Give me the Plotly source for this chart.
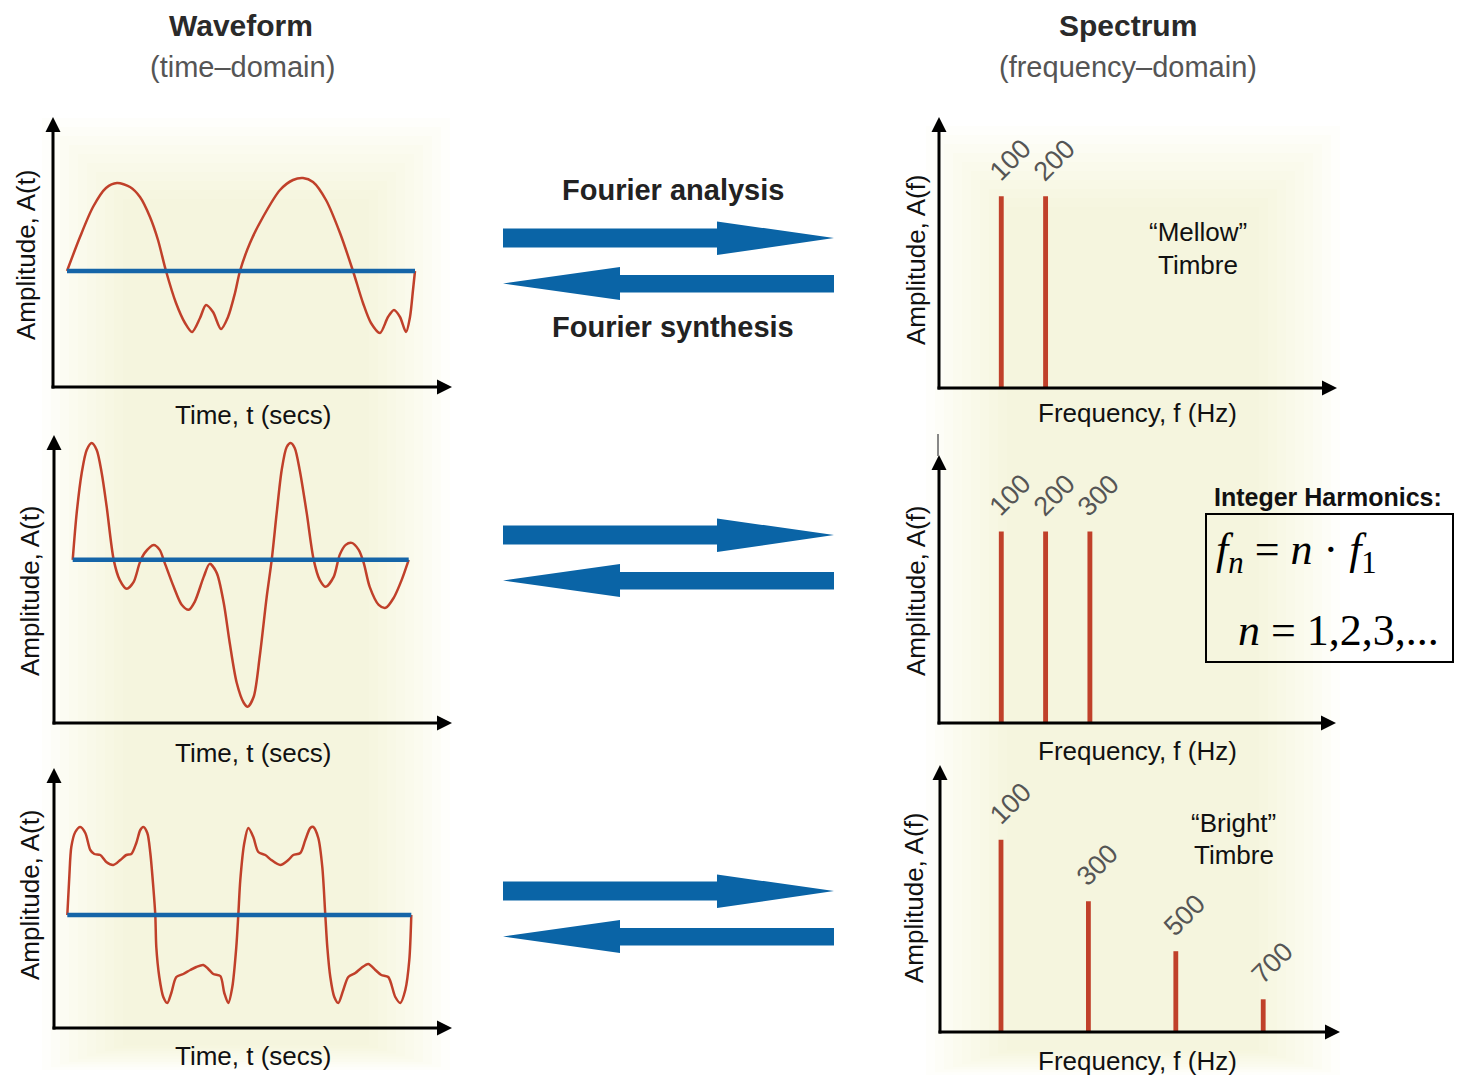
import plotly.graph_objects as go

W, H = 1462, 1075
SANS = "Liberation Sans, Arial, Helvetica, sans-serif"
SERIF = "Liberation Serif, Times New Roman, serif"
RED = "#c0402a"
BLUE = "#1565a8"
ARROW_BLUE = "#0a64a6"

# ---------------- data (arbitrary units) ----------------
# Waveform 1: 100 Hz + 200 Hz ("mellow")
t1 = [0, 13, 26, 39, 50, 63, 73, 83, 91, 99, 109, 118, 125, 133, 139, 146, 154, 161, 168, 173,
      183, 196, 213, 226, 236, 246, 259, 273, 286, 296, 304, 313, 321, 327, 333, 339, 343, 346, 348]
a1 = [0, 34, 64, 83, 88, 84, 74, 54, 31, 0, -32, -52, -61, -47, -34, -41, -58, -46, -22, 0,
      28, 54, 81, 91, 93, 89, 71, 38, 0, -32, -52, -62, -46, -39, -46, -61, -46, -19, 0]

# Waveform 2: 100 + 200 + 300 Hz
t2 = [0, 4, 9, 14, 19, 24, 29, 34, 41, 47, 54, 61, 67, 72, 81, 87, 92, 101, 109, 116, 122, 131,
      137, 144, 151, 157, 164, 171, 175, 181, 187, 194, 199, 204, 209, 214, 218, 222, 227, 234,
      241, 247, 253, 261, 267, 273, 279, 286, 291, 297, 306, 313, 321, 329, 336]
a2 = [0, 47, 87, 110, 117, 110, 87, 53, 0, -20, -29, -22, -3, 7, 15, 10, -3, -27, -45, -50, -42, -17,
      -4, -13, -43, -83, -123, -143, -147, -137, -97, -37, 0, 47, 90, 113, 117, 112, 90, 47,
      0, -20, -27, -17, 5, 15, 17, 10, -3, -27, -45, -48, -38, -20, 0]

# Waveform 3: odd harmonics 100 + 300 + 500 + 700 Hz ("bright")
t3 = [0, 2, 4, 8, 13, 18, 23, 27, 33, 39, 46, 53, 59, 64, 69, 73, 76, 80, 83, 86, 88, 89, 92, 96,
      100, 104, 109, 116, 123, 129, 136, 141, 146, 153, 157, 161, 165, 169, 171, 173, 177, 181,
      186, 191, 198, 204, 213, 221, 226, 233, 238, 243, 246, 251, 255, 258, 260, 263, 267, 271,
      276, 281, 288, 294, 301, 308, 314, 321, 328, 333, 338, 342, 344]
a3 = [0, 38, 68, 83, 88, 82, 65, 61, 60, 53, 50, 55, 60, 61, 72, 85, 88, 82, 62, 28, 0, -32, -62, -82,
      -88, -78, -62, -59, -55, -52, -50, -54, -59, -61, -78, -88, -72, -32, 0, 35, 72, 87,
      78, 63, 60, 55, 50, 55, 60, 62, 75, 87, 88, 77, 48, 0, -32, -62, -82, -88,
      -75, -62, -58, -53, -49, -55, -60, -62, -82, -88, -75, -45, 0]

# Spectra
spec1_f = [100, 200]
spec1_a = [1.0, 1.0]
spec2_f = [100, 200, 300]
spec2_a = [1.0, 1.0, 1.0]
spec3_f = [100, 300, 500, 700]
spec3_a = [1.0, 0.68, 0.42, 0.17]


def P(x, y):
    return x / W, 1 - y / H


def path(pts):
    s = ""
    for i, (x, y) in enumerate(pts):
        X, Y = P(x, y)
        s += ("M" if i == 0 else "L") + f"{X:.5f},{Y:.5f} "
    return s + "Z"


fig = go.Figure()
layout = dict(width=W, height=H, margin=dict(l=0, r=0, t=0, b=0),
              paper_bgcolor="white", plot_bgcolor="rgba(0,0,0,0)", showlegend=False)

# panel geometry: (k, left px, right px, top px, bottom px, xrange, yrange)
panels = [
    (1, 53, 452, 117, 387, [-14, 385], [-116, 154]),
    (2, 939, 1337, 117, 388, [-40.6, 857.8], [0, 1.414]),
    (3, 54, 452, 435, 723, [-18.7, 379.3], [-163.3, 125]),
    (4, 939, 1336, 455, 723, [-40.6, 855.5], [0, 1.399]),
    (5, 54, 452, 768, 1028, [-13.3, 384.7], [-113, 147]),
    (6, 940, 1340, 765, 1032, [-39.6, 875.7], [0, 1.388]),
]
annotations = []
shapes = []

HL, HW = 15, 7.5  # arrowhead length / half width in px
for k, x0, x1, yt, yb, xr, yr in panels:
    layout[f"xaxis{k}"] = dict(domain=[x0 / W, x1 / W], range=xr, visible=False,
                               anchor=f"y{k}", fixedrange=True)
    layout[f"yaxis{k}"] = dict(domain=[1 - yb / H, 1 - yt / H], range=yr, visible=False,
                               anchor=f"x{k}", fixedrange=True)
    # axis lines
    for (ax0, ay0, ax1, ay1) in ((x0 - 1.5, yb, x1 - HL + 2, yb), (x0, yb + 1.5, x0, yt + HL - 2)):
        X0, Y0 = P(ax0, ay0)
        X1, Y1 = P(ax1, ay1)
        shapes.append(dict(type="line", xref="paper", yref="paper", x0=X0, y0=Y0, x1=X1, y1=Y1,
                           line=dict(color="black", width=3)))
    # arrowheads
    shapes.append(dict(type="path", xref="paper", yref="paper", fillcolor="black", line=dict(width=0),
                       path=path([(x1 - HL, yb - HW), (x1, yb), (x1 - HL, yb + HW)])))
    shapes.append(dict(type="path", xref="paper", yref="paper", fillcolor="black", line=dict(width=0),
                       path=path([(x0 - HW, yt + HL), (x0, yt), (x0 + HW, yt + HL)])))

waves = [(1, t1, a1), (3, t2, a2), (5, t3, a3)]
for k, t, a in waves:
    ax_x, ax_y = ("x", "y") if k == 1 else (f"x{k}", f"y{k}")
    fig.add_trace(go.Scatter(x=t, y=a, mode="lines", xaxis=ax_x, yaxis=ax_y, hoverinfo="skip",
                             line=dict(color=RED, width=2.5, shape="spline", smoothing=0.8)))
    fig.add_trace(go.Scatter(x=[t[0], t[-1]], y=[0, 0], mode="lines", xaxis=ax_x, yaxis=ax_y,
                             hoverinfo="skip", line=dict(color=BLUE, width=4.5)))

specs = [(2, spec1_f, spec1_a), (4, spec2_f, spec2_a), (6, spec3_f, spec3_a)]
for k, f, a in specs:
    fig.add_trace(go.Bar(x=f, y=a, width=11, xaxis=f"x{k}", yaxis=f"y{k}",
                         marker=dict(color=RED, line=dict(width=0)), hoverinfo="skip"))
    for fi, ai in zip(f, a):
        annotations.append(dict(text=str(fi), x=fi, y=ai, xref=f"x{k}", yref=f"y{k}",
                                showarrow=False, textangle=-45, xshift=9, yshift=36,
                                font=dict(family=SANS, size=27, color="#555555")))


def txt(text, x, y, size, color="#111111", family=SANS, angle=0, xanchor="center"):
    X, Y = P(x, y)
    annotations.append(dict(text=text, x=X, y=Y, xref="paper", yref="paper", showarrow=False,
                            textangle=angle, xanchor=xanchor, yanchor="middle",
                            font=dict(family=family, size=size, color=color)))


# headers
txt("<b>Waveform</b>", 241, 25, 30, "#2a2a2a")
txt("(time\u2013domain)", 242, 67, 29, "#555555")
txt("<b>Spectrum</b>", 1128, 25, 30, "#2a2a2a")
txt("(frequency\u2013domain)", 1128, 67, 29, "#555555")
txt("<b>Fourier analysis</b>", 673, 190, 29, "#222222")
txt("<b>Fourier synthesis</b>", 673, 327, 29, "#222222")

# axis labels
txt("Time, t (secs)", 253, 415, 26)
txt("Time, t (secs)", 253, 753, 26)
txt("Time, t (secs)", 253, 1056, 26)
txt("Frequency, f (Hz)", 1137, 413, 26)
txt("Frequency, f (Hz)", 1137, 751, 26)
txt("Frequency, f (Hz)", 1137, 1061, 26)
txt("Amplitude, A(t)", 26, 255, 26, angle=-90)
txt("Amplitude, A(t)", 30, 591, 26, angle=-90)
txt("Amplitude, A(t)", 30, 895, 26, angle=-90)
txt("Amplitude, A(f)", 916, 260, 26, angle=-90)
txt("Amplitude, A(f)", 916, 591, 26, angle=-90)
txt("Amplitude, A(f)", 914, 898, 26, angle=-90)

# timbre notes
txt("\u201cMellow\u201d", 1198, 232, 26)
txt("Timbre", 1198, 265, 26)
txt("\u201cBright\u201d", 1233, 823, 26)
txt("Timbre", 1234, 855, 26)

# integer harmonics box
txt("<b>Integer Harmonics:</b>", 1328, 497, 25, "#111111")
txt("<i>f</i><sub><i>n</i></sub> = <i>n</i> \u00b7 <i>f</i><sub>1</sub>", 1214, 553, 44,
    "#000000", family=SERIF, xanchor="left")
txt("<i>n</i> = 1,2,3,...", 1236, 630, 44, "#000000", family=SERIF, xanchor="left")
bx0, by0 = P(1206, 514)
bx1, by1 = P(1453, 662)
shapes.append(dict(type="rect", xref="paper", yref="paper", x0=bx0, y0=by1, x1=bx1, y1=by0,
                   line=dict(color="black", width=2), fillcolor="rgba(0,0,0,0)"))

# small stray tick above spectrum 2 axis
sx0, sy0 = P(938, 434)
sx1, sy1 = P(938, 456)
shapes.append(dict(type="line", xref="paper", yref="paper", x0=sx0, y0=sy0, x1=sx1, y1=sy1,
                   line=dict(color="#888888", width=2)))


# soft cream glow behind columns
def glow(x0, y0, x1, y1, n=10, step=9):
    for i in range(n):
        ins = i * step
        gx0, gy0 = P(x0 + ins, y0 + ins)
        gx1, gy1 = P(x1 - ins, y1 - ins * 0.3)
        shapes.append(dict(type="rect", xref="paper", yref="paper", layer="below",
                           x0=gx0, y0=gy1, x1=gx1, y1=gy0, line=dict(width=0),
                           fillcolor="rgba(238,233,198,0.065)"))


glow(42, 118, 450, 1070)
glow(926, 126, 1340, 1075)

# Fourier arrows
for dy in (0, 297, 653):
    right = [(503, 228.5 + dy), (717, 228.5 + dy), (717, 221.5 + dy), (834, 238 + dy),
             (717, 255 + dy), (717, 247.5 + dy), (503, 247.5 + dy)]
    left = [(834, 275 + dy), (620, 275 + dy), (620, 267 + dy), (503, 283.5 + dy),
            (620, 300 + dy), (620, 292.5 + dy), (834, 292.5 + dy)]
    for pts in (right, left):
        shapes.append(dict(type="path", xref="paper", yref="paper", path=path(pts),
                           fillcolor=ARROW_BLUE, line=dict(width=0)))

layout["annotations"] = annotations
layout["shapes"] = shapes
fig.update_layout(**layout)

fig.write_html("out.html", config={"displayModeBar": False, "staticPlot": True},
               post_script="document.body.style.margin='0';document.body.style.overflow='hidden';")
